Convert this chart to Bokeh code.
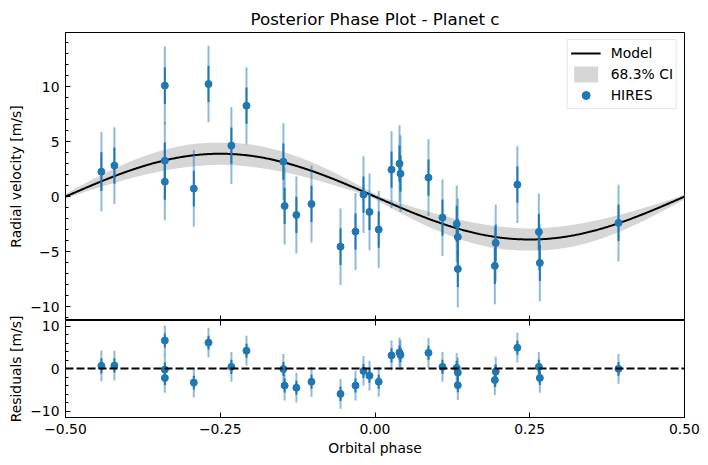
import numpy as np
from bokeh.plotting import figure
from bokeh.layouts import column
from bokeh.models import (ColumnDataSource, Range1d, FixedTicker, Legend,
                          LegendItem, Span, LinearAxis)
from bokeh.embed import file_html
from bokeh.resources import INLINE

# ---------------- data ----------------
phase = [-0.442, -0.421, -0.3395, -0.3395, -0.3395, -0.2927, -0.269, -0.232,
         -0.2076, -0.148, -0.146, -0.127, -0.1026, -0.0557, -0.0315, -0.0186,
         -0.0089, 0.006, 0.0267, 0.0396, 0.0412, 0.0864, 0.109, 0.132,
         0.1338, 0.1338, 0.195, 0.1936, 0.230, 0.2647, 0.2663, 0.3934]
rv = [2.27, 2.82, 10.1, 3.27, 1.36, 0.73, 10.24, 4.64,
      8.27, 3.18, -0.85, -1.67, -0.67, -4.55, -3.18, 0.18,
      -1.39, -3.0, 2.45, 3.0, 2.09, 1.73, -1.91, -2.48,
      -3.67, -6.58, -4.21, -6.3, 1.09, -3.21, -6.03, -2.39]
resid = [0.64, 0.71, 6.6, -0.24, -2.2, -3.3, 6.1, 0.4,
         4.2, -0.1, -4.0, -4.5, -3.1, -5.95, -4.0, -0.55,
         -1.67, -3.1, 3.1, 3.8, 3.2, 3.7, 0.4, 0.17,
         -0.95, -3.9, -0.7, -2.7, 4.9, 0.4, -2.2, -0.07]
err = [1.77, 1.64, 1.67, 1.65, 1.65, 1.62, 1.64, 1.65,
       1.65, 1.65, 1.65, 1.65, 1.65, 1.67, 1.65, 1.65,
       1.65, 1.65, 1.65, 1.65, 1.65, 1.65, 1.65, 1.65,
       1.65, 1.65, 1.65, 1.65, 1.65, 1.65, 1.65, 1.64]
err_tot = [3.6, 3.5, 3.55, 3.5, 3.5, 3.48, 3.48, 3.5,
           3.5, 3.5, 3.5, 3.5, 3.5, 3.48, 3.5, 3.5,
           3.5, 3.5, 3.5, 3.5, 3.5, 3.5, 3.5, 3.5,
           3.5, 3.5, 3.5, 3.5, 3.5, 3.5, 3.5, 3.48]

# model parameters (semi-amplitude and its 68.3% uncertainty)
K = 3.9
K_err = 1.0
phase_err = 0.008

x_ticks = [-0.5, -0.25, 0.0, 0.25, 0.5]
x_tick_labels = ["−0.50", "−0.25", "0.00", "0.25", "0.50"]
rv_ticks = [-10, -5, 0, 5, 10]
rv_tick_labels = ["−10", "−5", "0", "5", "10"]
rv_minor = list(range(-11, 15))
res_ticks = [-10, 0, 10]
res_tick_labels = ["−10", "0", "10"]
res_minor = list(range(-10, 12, 2))

rv_range = (-11.27, 14.93)
res_range = (-11.5, 11.3)

BLUE = "#1f77b4"
FONT = "DejaVu Sans"
FS = "13.9px"
OVERLAP = 24  # residual canvas reaches up over the main one (transparent)

# ---------------- derived ----------------
ph = np.array(phase)
y = np.array(rv)
r = np.array(resid)
e = np.array(err)
et = np.array(err_tot)

src = ColumnDataSource(dict(
    x=ph, y=y, r=r,
    y_lo=y - e, y_hi=y + e, y_lo2=y - et, y_hi2=y + et,
    r_lo=r - e, r_hi=r + e, r_lo2=r - et, r_hi2=r + et,
))

grid = np.linspace(-0.5, 0.5, 601)
model = -K * np.sin(2 * np.pi * grid)
combos = [-(K + a) * np.sin(2 * np.pi * (grid + b))
          for a in (-K_err, K_err) for b in (-phase_err, phase_err)]
band_lo = np.min(combos, axis=0)
band_hi = np.max(combos, axis=0)
msrc = ColumnDataSource(dict(x=grid, m=model, lo=band_lo, hi=band_hi))


def style_common(p):
    p.xgrid.grid_line_color = None
    p.ygrid.grid_line_color = None
    p.outline_line_color = "black"
    p.outline_line_width = 1
    p.background_fill_color = "white"


def style_axis(ax):
    ax.axis_line_color = "black"
    ax.major_tick_line_color = "black"
    ax.minor_tick_line_color = "black"
    ax.major_tick_in = 5
    ax.major_tick_out = 0
    ax.minor_tick_in = 3
    ax.minor_tick_out = 0
    ax.major_label_text_font = FONT
    ax.major_label_text_font_size = FS
    ax.major_label_text_color = "black"
    ax.axis_label_text_font = FONT
    ax.axis_label_text_font_size = FS
    ax.axis_label_text_font_style = "normal"
    ax.axis_label_text_color = "black"


xr = Range1d(-0.5, 0.5)

# ---------------- main panel ----------------
p1 = figure(width=708, height=320, x_range=xr, y_range=Range1d(*rv_range),
            output_backend="svg", toolbar_location=None,
            min_border_left=65, min_border_right=24, min_border_top=32,
            min_border_bottom=0, title="Posterior Phase Plot - Planet c")
style_common(p1)
p1.border_fill_color = "white"
p1.title.text_font = FONT
p1.title.text_font_size = "16.7px"
p1.title.text_font_style = "normal"
p1.title.text_color = "black"
p1.title.align = "center"
p1.title.standoff = 8

style_axis(p1.xaxis[0])
p1.xaxis.ticker = FixedTicker(ticks=x_ticks)
p1.xaxis.minor_tick_line_color = None
p1.xaxis.major_label_text_color = None
p1.xaxis.fixed_location = rv_range[0]

style_axis(p1.yaxis[0])
p1.yaxis.ticker = FixedTicker(ticks=rv_ticks, minor_ticks=rv_minor)
p1.yaxis.major_label_overrides = dict(zip(rv_ticks, rv_tick_labels))
p1.yaxis.major_label_standoff = 6
p1.yaxis.axis_label = "Radial velocity [m/s]"
p1.yaxis.axis_label_standoff = 3

r_band = p1.varea(x="x", y1="lo", y2="hi", source=msrc, fill_color="#d6d6d6")
r_model = p1.line(x="x", y="m", source=msrc, line_color="black", line_width=2)
p1.segment(x0="x", y0="y_lo2", x1="x", y1="y_hi2", source=src,
           line_color=BLUE, line_alpha=0.5, line_width=2)
p1.segment(x0="x", y0="y_lo", x1="x", y1="y_hi", source=src,
           line_color=BLUE, line_width=2)
r_pts = p1.scatter(x="x", y="y", source=src, size=7, fill_color=BLUE,
                   line_color=BLUE, marker="circle")

legend = Legend(items=[
    LegendItem(label="Model", renderers=[r_model]),
    LegendItem(label="68.3% CI", renderers=[r_band]),
    LegendItem(label="HIRES", renderers=[r_pts]),
], location="top_right")
legend.margin = 7
legend.padding = 3
legend.spacing = 1
legend.glyph_width = 30
legend.glyph_height = 20
legend.label_height = 20
legend.label_standoff = 10
legend.label_text_font = FONT
legend.label_text_font_size = FS
legend.label_text_color = "black"
legend.border_line_color = "#cccccc"
legend.border_line_width = 1
legend.background_fill_alpha = 0.8
p1.add_layout(legend)

# ---------------- residual panel ----------------
p2 = figure(width=708, height=145 + OVERLAP, x_range=xr, y_range=Range1d(*res_range),
            output_backend="svg", toolbar_location=None,
            min_border_left=65, min_border_right=24, min_border_top=OVERLAP,
            min_border_bottom=48)
style_common(p2)
p2.border_fill_alpha = 0
p2.margin = (-OVERLAP, 0, 0, 0)

style_axis(p2.xaxis[0])
p2.xaxis.ticker = FixedTicker(ticks=x_ticks)
p2.xaxis.minor_tick_line_color = None
p2.xaxis.major_label_overrides = dict(zip(x_ticks, x_tick_labels))
p2.xaxis.major_label_standoff = 6
p2.xaxis.axis_label = "Orbital phase"
p2.xaxis.axis_label_standoff = 3

top_ax = LinearAxis(ticker=FixedTicker(ticks=x_ticks), fixed_location=res_range[1])
style_axis(top_ax)
top_ax.minor_tick_line_color = None
top_ax.major_label_text_color = None
p2.add_layout(top_ax, "above")

style_axis(p2.yaxis[0])
p2.yaxis.ticker = FixedTicker(ticks=res_ticks, minor_ticks=res_minor)
p2.yaxis.major_label_overrides = dict(zip(res_ticks, res_tick_labels))
p2.yaxis.major_label_standoff = 6
p2.yaxis.axis_label = "Residuals [m/s]"
p2.yaxis.axis_label_standoff = 3

p2.add_layout(Span(location=0, dimension="width", line_color="black",
                   line_dash="8 3", line_width=2))
p2.segment(x0="x", y0="r_lo2", x1="x", y1="r_hi2", source=src,
           line_color=BLUE, line_alpha=0.5, line_width=2)
p2.segment(x0="x", y0="r_lo", x1="x", y1="r_hi", source=src,
           line_color=BLUE, line_width=2)
p2.scatter(x="x", y="r", source=src, size=7, fill_color=BLUE,
           line_color=BLUE, marker="circle")

layout = column(p1, p2, spacing=0)
open("out.html", "w").write(file_html(layout, INLINE))
